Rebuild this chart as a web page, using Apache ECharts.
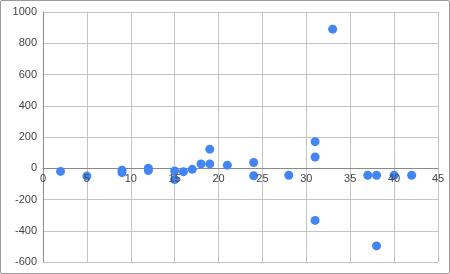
<!DOCTYPE html>
<html><head><meta charset="utf-8">
<script src="https://cdn.jsdelivr.net/npm/echarts@6/dist/echarts.min.js"></script>
<style>
html,body{margin:0;padding:0;background:#fff;}
#c{width:448px;height:272px;border:1px solid #9a9a9a;border-radius:2px;}
</style></head>
<body><div id="c"></div>
<script>
const xValues = [2, 5, 9, 9, 12, 12, 15, 15, 16, 17, 18, 19, 19, 21, 24, 24, 28, 31, 31, 31, 33, 37, 38, 38, 40, 42];
const yValues = [-20, -50, -12, -28, 0, -15, -17, -72, -22, -7, 28, 28, 122, 20, 37, -48, -45, 170, 72, -334, 890, -45, -45, -497, -45, -45];
const xTicks = {min: 0, max: 45, interval: 5};
const yTicks = {min: -600, max: 1000, interval: 200};

const gridTop = 11, gridBottom = 11;
const chartH = 272;
const plotH = chartH - gridTop - gridBottom;
const zeroOffset = plotH * (0 - yTicks.min) / (yTicks.max - yTicks.min);

const chart = echarts.init(document.getElementById('c'), null, {renderer: 'canvas'});
const pts = xValues.map((x, i) => [x, yValues[i]]);
const labelStyle = {color: '#444', fontSize: 11, fontFamily: 'Liberation Sans, Arial'};
chart.setOption({
  animation: false,
  grid: {left: 42, right: 11, top: gridTop, bottom: gridBottom, containLabel: false},
  xAxis: [{
    type: 'value', min: xTicks.min, max: xTicks.max, interval: xTicks.interval,
    position: 'bottom', offset: -zeroOffset, z: 0,
    axisLine: {show: true, onZero: false, lineStyle: {color: '#8a8a8a'}},
    axisTick: {show: false},
    axisLabel: {show: false},
    splitLine: {show: true, lineStyle: {color: '#c4c4c4'}}
  }, {
    type: 'value', min: xTicks.min, max: xTicks.max, interval: xTicks.interval,
    position: 'bottom', offset: -zeroOffset, z: 5,
    axisLine: {show: false, onZero: false},
    axisTick: {show: false},
    axisLabel: Object.assign({margin: 5}, labelStyle),
    splitLine: {show: false}
  }],
  yAxis: {
    type: 'value', min: yTicks.min, max: yTicks.max, interval: yTicks.interval,
    axisLine: {show: true, lineStyle: {color: '#8a8a8a'}},
    axisTick: {show: false},
    axisLabel: Object.assign({margin: 6, formatter: v => String(v)}, labelStyle),
    splitLine: {show: true, lineStyle: {color: '#c4c4c4'}}
  },
  series: [{
    type: 'scatter', data: pts, symbolSize: 9, xAxisIndex: 0,
    itemStyle: {color: '#4285F4', opacity: 1}
  }]
});
</script></body></html>
